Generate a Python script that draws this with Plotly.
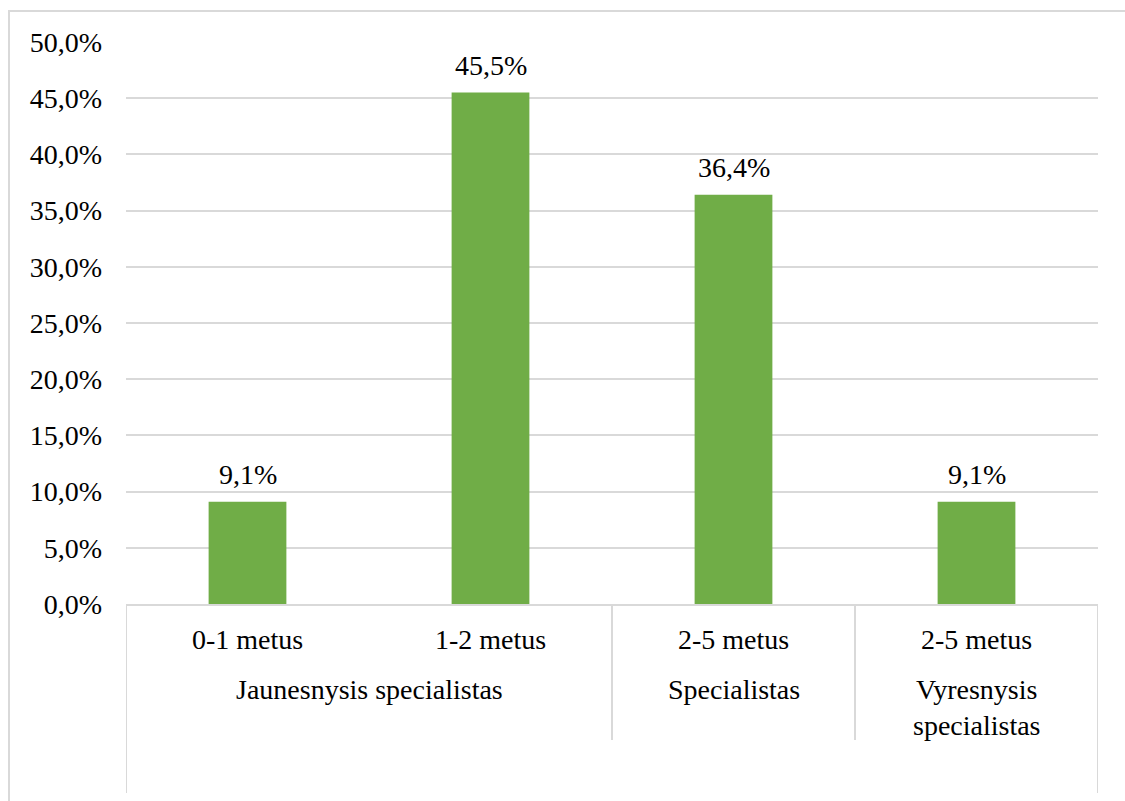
import plotly.graph_objects as go

# Experience groups: first-level labels (years) and second-level labels (role)
years = ["0-1 metus", "1-2 metus", "2-5 metus", "2-5 metus"]
groups = ["Jaunesnysis specialistas", "Specialistas", "Vyresnysis<br>specialistas"]
group_spans = [(0, 1), (2, 2), (3, 3)]  # first and last category index of each group
shares = [9.1, 45.5, 36.4, 9.1]  # percent

GREEN = "#70AD47"
GRID = "#D9D9D9"
SERIF = "'Liberation Serif', 'DejaVu Serif', serif"
FONT = dict(family=SERIF, size=28, color="#000000")
CAT_FONT = dict(family=SERIF, size=28, color="#000000")

W, H = 1125, 801
L, R, T, B = 126, 27, 42, 197
plot_w, plot_h = W - L - R, H - T - B


def px_to_paper_x(px):
    return (px - L) / plot_w


def px_to_paper_y(py):
    return (H - B - py) / plot_h


x_idx = list(range(len(years)))

fig = go.Figure()
fig.add_trace(go.Bar(
    x=x_idx,
    y=shares,
    marker=dict(color=GREEN, line=dict(width=0)),
    hoverinfo="skip",
))

annotations = []
# value labels above bars
for i, v in zip(x_idx, shares):
    annotations.append(dict(
        x=i, y=v, xref="x", yref="y",
        text=f"{v:.1f}".replace(".", ",") + "%",
        showarrow=False, yanchor="bottom", yshift=10, font=FONT,
    ))
# first-level category labels
for i, lab in zip(x_idx, years):
    annotations.append(dict(
        x=i, y=px_to_paper_y(639), xref="x", yref="paper",
        text=lab, showarrow=False, yanchor="middle", font=CAT_FONT,
    ))
# second-level group labels
for (a, b), lab in zip(group_spans, groups):
    annotations.append(dict(
        x=(a + b) / 2, y=px_to_paper_y(672), xref="x", yref="paper",
        text=lab, showarrow=False, yanchor="top", font=CAT_FONT,
    ))

shapes = []
# category axis dividers: outer edges run deeper than inner group boundaries
edges = [-0.5, len(years) - 0.5]
inner = [b + 0.5 for (a, b) in group_spans[:-1]]
for xe in edges:
    shapes.append(dict(type="line", xref="x", yref="paper",
                       x0=xe, x1=xe, y0=0, y1=px_to_paper_y(793),
                       line=dict(color=GRID, width=2)))
for xe in inner:
    shapes.append(dict(type="line", xref="x", yref="paper",
                       x0=xe, x1=xe, y0=0, y1=px_to_paper_y(740),
                       line=dict(color=GRID, width=2)))
# outer chart frame
shapes.append(dict(type="rect", xref="paper", yref="paper",
                   x0=px_to_paper_x(9), x1=px_to_paper_x(1140),
                   y0=px_to_paper_y(815), y1=px_to_paper_y(11),
                   line=dict(color=GRID, width=2), fillcolor="rgba(0,0,0,0)",
                   layer="below"))

fig.update_layout(
    width=W, height=H,
    margin=dict(l=L, r=R, t=T, b=B),
    paper_bgcolor="white", plot_bgcolor="white",
    separators=", ",
    showlegend=False,
    bargap=0.68,
    font=FONT,
    annotations=annotations,
    shapes=shapes,
)
fig.update_xaxes(
    range=[-0.5, len(years) - 0.5],
    showticklabels=False, showgrid=False, zeroline=False,
    showline=True, linecolor=GRID, linewidth=2, ticks="",
    fixedrange=True,
)
fig.update_yaxes(
    range=[0, 50], tick0=0, dtick=5,
    tickformat=".1f", ticksuffix="%",
    showgrid=True, gridcolor=GRID, gridwidth=2,
    zeroline=False, showline=False, ticks="",
    ticklabelstandoff=23,
    tickfont=FONT,
    fixedrange=True,
)

fig.write_html("out.html")
